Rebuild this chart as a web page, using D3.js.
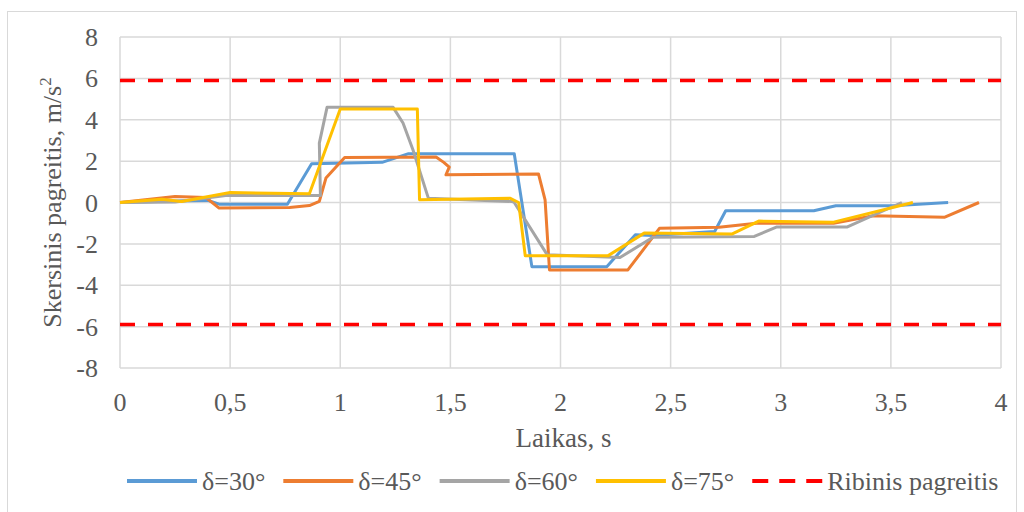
<!DOCTYPE html>
<html>
<head>
<meta charset="utf-8">
<script src="https://d3js.org/d3.v7.min.js"></script>
</head>
<body style="margin:0">
<div id="chart"></div>
<script>
// series data
var x30 = [0, 0.3, 0.4, 0.45, 0.76, 0.87, 1.19, 1.31, 1.79, 1.87, 2.21, 2.34, 2.42, 2.7, 2.75, 3.15, 3.25, 3.51, 3.76];
var y30 = [0, 0.08, 0.1, -0.08, -0.08, 1.87, 1.94, 2.36, 2.36, -3.1, -3.1, -1.56, -1.6, -1.4, -0.4, -0.4, -0.16, -0.16, 0];

var x45 = [0, 0.25, 0.39, 0.45, 0.77, 0.86, 0.905, 0.935, 1.02, 1.435, 1.47, 1.495, 1.48, 1.9, 1.93, 1.95, 2.306, 2.45, 2.72, 2.89, 3.24, 3.42, 3.745, 3.9];
var y45 = [0, 0.29, 0.24, -0.27, -0.24, -0.15, 0.05, 1.18, 2.18, 2.2, 1.94, 1.71, 1.34, 1.38, 0.13, -3.26, -3.26, -1.24, -1.2, -1.0, -1.0, -0.64, -0.71, 0];

var x60 = [0, 0.25, 0.48, 0.91, 0.905, 0.94, 1.24, 1.285, 1.33, 1.40, 1.78, 1.79, 1.94, 2.27, 2.42, 2.88, 2.98, 3.30, 3.55];
var y60 = [0, 0.02, 0.34, 0.34, 2.87, 4.6, 4.6, 3.84, 2.55, 0.21, 0.05, 0, -2.53, -2.66, -1.68, -1.64, -1.19, -1.19, 0];

var x75 = [0, 0.19, 0.28, 0.5, 0.86, 1.0, 1.35, 1.36, 1.77, 1.81, 1.84, 2.215, 2.38, 2.78, 2.9, 3.24, 3.6];
var y75 = [0, 0.16, 0.05, 0.48, 0.42, 4.52, 4.52, 0.13, 0.21, 0, -2.58, -2.58, -1.48, -1.52, -0.9, -0.95, 0];

var limit = 5.9;
var limitX = [0, 4];

var seriesNames = ["δ=30°", "δ=45°", "δ=60°", "δ=75°"];
var seriesColors = ["#5B9BD5", "#ED7D31", "#A5A5A5", "#FFC000"];
var limitName = "Ribinis pagreitis";

var xTicks = [0, 0.5, 1, 1.5, 2, 2.5, 3, 3.5, 4];
var yTicks = [-8, -6, -4, -2, 0, 2, 4, 6, 8];

var width = 1024, height = 512;
var plotLeft = 120, plotRight = 1001, plotTop = 37, plotBottom = 368;
var fs = 26;
var serif = "'Liberation Serif'";

var svg = d3.select("#chart").append("svg")
    .attr("width", width).attr("height", height);

// outer chart border
svg.append("rect")
    .attr("x", 7.5).attr("y", 11.5)
    .attr("width", 1009).attr("height", 520)
    .attr("fill", "none").attr("stroke", "#d9d9d9").attr("stroke-width", 1);

var x = d3.scaleLinear().domain([0, 4]).range([plotLeft, plotRight]);
var y = d3.scaleLinear().domain([-8, 8]).range([plotBottom, plotTop]);

var fmt = function(d) { return String(d).replace(".", ","); };

// gridlines
svg.append("g").selectAll("line").data(yTicks).enter().append("line")
    .attr("x1", plotLeft).attr("x2", plotRight)
    .attr("y1", function(d) { return y(d); }).attr("y2", function(d) { return y(d); })
    .attr("stroke", "#d9d9d9").attr("stroke-width", 1.5);
svg.append("g").selectAll("line").data(xTicks).enter().append("line")
    .attr("y1", plotTop).attr("y2", plotBottom)
    .attr("x1", function(d) { return x(d); }).attr("x2", function(d) { return x(d); })
    .attr("stroke", "#d9d9d9").attr("stroke-width", 1.5);

// tick labels
svg.append("g").selectAll("text").data(yTicks).enter().append("text")
    .style("font-family", serif).attr("fill", "#595959")
    .attr("x", 98).attr("y", function(d) { return y(d) + 9; })
    .attr("text-anchor", "end").attr("font-size", fs)
    .text(function(d) { return d; });
svg.append("g").selectAll("text").data(xTicks).enter().append("text")
    .style("font-family", serif).attr("fill", "#595959")
    .attr("x", function(d) { return x(d); }).attr("y", 411)
    .attr("text-anchor", "middle").attr("font-size", fs)
    .text(fmt);

// axis titles
svg.append("text")
    .style("font-family", serif).attr("fill", "#595959")
    .attr("x", (plotLeft + plotRight) / 2 + 3).attr("y", 447)
    .attr("text-anchor", "middle").attr("font-size", 27)
    .text("Laikas, s");
var yt = svg.append("text")
    .style("font-family", serif).attr("fill", "#595959")
    .attr("transform", "translate(61," + ((plotTop + plotBottom) / 2) + ") rotate(-90)")
    .attr("text-anchor", "middle").attr("font-size", fs);
yt.append("tspan").text("Skersinis pagreitis, m/s");
yt.append("tspan").attr("dy", -10).attr("font-size", 17).text("2");

// limit lines
var line = d3.line().x(function(d) { return x(d[0]); }).y(function(d) { return y(d[1]); });
[limit, -limit].forEach(function(v) {
    svg.append("path")
        .datum(limitX.map(function(t) { return [t, v]; }))
        .attr("d", line)
        .attr("fill", "none").attr("stroke", "#FF0000")
        .attr("stroke-width", 3.5).attr("stroke-dasharray", "15,13");
});

// series
var xs = [x30, x45, x60, x75], ys = [y30, y45, y60, y75];
xs.forEach(function(xv, i) {
    svg.append("path")
        .datum(xv.map(function(t, j) { return [t, ys[i][j]]; }))
        .attr("d", line)
        .attr("fill", "none").attr("stroke", seriesColors[i])
        .attr("stroke-width", 3).attr("stroke-linejoin", "round");
});

// legend
var lg = svg.append("g");
var lx = 127, ly = 481;
var items = seriesNames.map(function(n, i) { return {name: n, color: seriesColors[i], dash: null}; });
items.push({name: limitName, color: "#FF0000", dash: "16,11"});
items.forEach(function(it) {
    lg.append("line")
        .attr("x1", lx).attr("x2", lx + 70).attr("y1", ly).attr("y2", ly)
        .attr("stroke", it.color).attr("stroke-width", 4)
        .attr("stroke-dasharray", it.dash);
    var t = lg.append("text")
        .style("font-family", serif).attr("fill", "#595959")
        .attr("x", lx + 75).attr("y", ly + 9).attr("font-size", fs)
        .text(it.name);
    lx += 75 + t.node().getComputedTextLength() + 18;
});
</script>
</body>
</html>
